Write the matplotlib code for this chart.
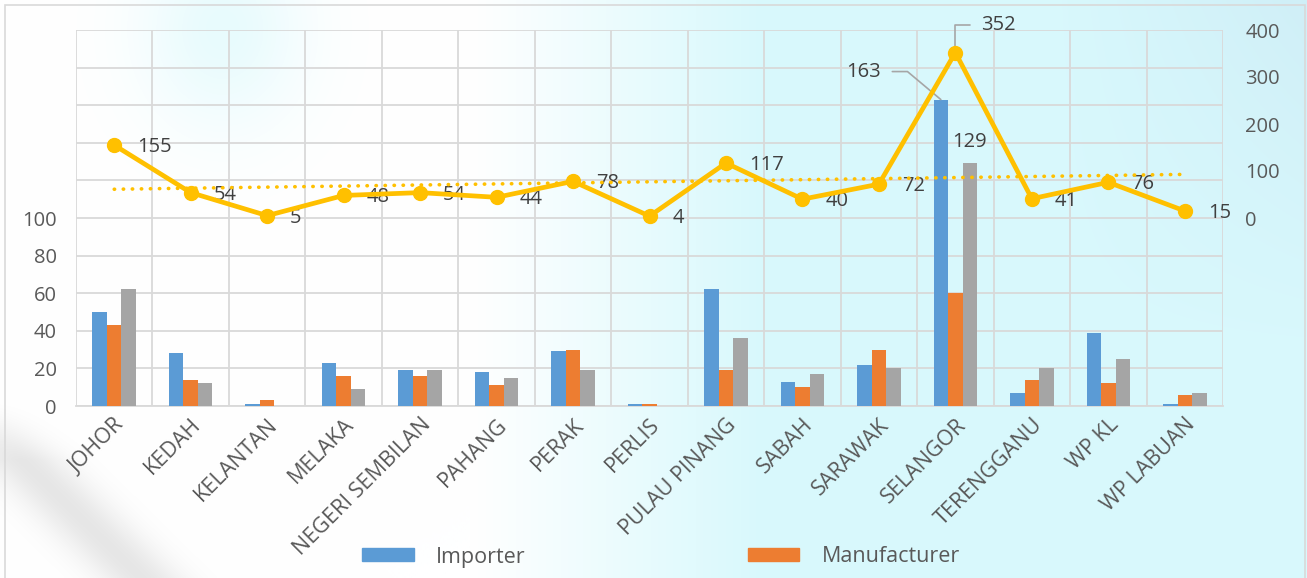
import numpy as np
import matplotlib
matplotlib.use("Agg")
from matplotlib import pyplot as plt
from matplotlib.patches import Patch, Rectangle

plt.rcParams['font.family'] = ['Open Sans', 'DejaVu Sans']

# Registrations per state
states = ['JOHOR', 'KEDAH', 'KELANTAN', 'MELAKA', 'NEGERI SEMBILAN', 'PAHANG',
          'PERAK', 'PERLIS', 'PULAU PINANG', 'SABAH', 'SARAWAK', 'SELANGOR',
          'TERENGGANU', 'WP KL', 'WP LABUAN']
importer = [50, 28, 1, 23, 19, 18, 29, 1, 62, 13, 22, 163, 7, 39, 1]
manufacturer = [43, 14, 3, 16, 16, 11, 30, 1, 19, 10, 30, 60, 14, 12, 6]
distributor = [62, 12, 0, 9, 19, 15, 19, 0, 36, 17, 20, 129, 20, 25, 7]
total = [155, 54, 5, 48, 54, 44, 78, 4, 117, 40, 72, 352, 41, 76, 15]

BLUE, ORANGE, GREY, GOLD = '#5B9BD5', '#ED7D31', '#A5A5A5', '#FFC000'
TXT = '#595959'
LBL = '#404040'
GRID = '#d9d9d9'
FS = 14.5

W, H = 1307, 578
fig = plt.figure(figsize=(W / 100, H / 100), dpi=100)

# soft watercolour-like background
bg = fig.add_axes([0, 0, 1, 1], zorder=-5)
yy, xx = np.mgrid[0:1:290j, 0:1:650j]
cyan = np.clip((xx - 0.36) / 0.22, 0, 1)
cyan = np.maximum(cyan, 0.6 * np.exp(-((xx - 0.17) ** 2 / 0.004 + (yy - 0.05) ** 2 / 0.03)))
img = np.ones(yy.shape + (3,))
c_col = np.array([0.85, 0.975, 0.99])
img = img * (1 - cyan[..., None]) + c_col * cyan[..., None]
blue = np.clip((xx - 0.8) / 0.2, 0, 1) * np.clip(1 - yy * 1.6, 0, 1)
img = img * (1 - 0.5 * blue[..., None]) + np.array([0.78, 0.9, 0.95]) * 0.5 * blue[..., None]
# grey stroke in the lower left
px, py = xx * W, yy * H
d = np.abs(px * 0.7 - (py - 440) * 0.71)
stroke = np.exp(-(d / 30) ** 2) * np.clip((py - 400) / 60, 0, 1) * 0.3
img = img * (1 - stroke[..., None]) + np.array([0.68, 0.68, 0.68]) * stroke[..., None]
bg.imshow(img, aspect='auto', extent=[0, 1, 0, 1], interpolation='bilinear')
bg.set_xlim(0, 1)
bg.set_ylim(0, 1)
bg.axis('off')
bg.add_patch(Rectangle((5 / W, -0.01), 1300 / W, 1 - 5 / H + 0.01, fill=False,
                       edgecolor=GRID, lw=1.2))

left, right, top, bottom = 76, 1223, 30, 406
ax = fig.add_axes([left / W, 1 - bottom / H, (right - left) / W, (bottom - top) / H])
ax.patch.set_alpha(0)

x = np.arange(len(states))
w = 0.19
ax.bar(x - w, importer, w, color=BLUE, zorder=3)
ax.bar(x, manufacturer, w, color=ORANGE, zorder=3)
ax.bar(x + w, distributor, w, color=GREY, zorder=3)

ax.set_xlim(-0.5, len(states) - 0.5)
ax.set_ylim(0, 200)
ax.set_yticks(np.arange(0, 201, 20))
ax.set_yticklabels([str(v) if v <= 100 else '' for v in range(0, 201, 20)])
ax.set_xticks(x)
ax.set_xticklabels(states, rotation=45, ha='right', rotation_mode='anchor', fontsize=15.5)
ax.set_xticks(np.arange(-0.5, len(states), 1), minor=True)
ax.grid(axis='y', which='major', color=GRID, lw=1.3, zorder=0)
ax.grid(axis='x', which='minor', color=GRID, lw=1.3, zorder=0)
ax.grid(axis='x', which='major', visible=False)
ax.tick_params(axis='both', which='both', length=0, colors=TXT)
ax.tick_params(axis='y', labelsize=FS, pad=14)
ax.tick_params(axis='x', pad=6)
for s in ['top', 'left', 'right']:
    ax.spines[s].set_visible(False)
ax.spines['bottom'].set_color(GRID)
ax.spines['bottom'].set_linewidth(1.3)

# labels on the Selangor bars
ax.annotate('163', xy=(11 - w, 163), xytext=(-77, 28), textcoords='offset pixels',
            ha='center', va='center', fontsize=FS, color=LBL, zorder=6,
            arrowprops=dict(arrowstyle='-', color='#a6a6a6', lw=1.2, shrinkA=6, shrinkB=0,
                            connectionstyle='angle,angleA=0,angleB=140,rad=0'))
ax.annotate('129', xy=(11 + w, 129), xytext=(0, 21), textcoords='offset pixels',
            ha='center', va='center', fontsize=FS, color=LBL, zorder=6)

# totals on the secondary axis
ax2 = ax.twinx()
ax2.set_ylim(-400, 400)
ax2.set_yticks(np.arange(0, 401, 100))
ax2.tick_params(axis='y', length=0, colors=TXT, labelsize=FS, pad=16)
for s in ax2.spines.values():
    s.set_visible(False)

coef = np.polyfit(x, total, 1)
ax2.plot(x, np.polyval(coef, x), color=GOLD, lw=2.6, linestyle=(0, (0.1, 2.4)),
         dash_capstyle='round', zorder=4)
ax2.plot(x, total, color=GOLD, lw=3.4, marker='o', ms=10, zorder=5)

for xi, v in zip(x, total):
    if v == max(total):
        ax2.annotate(str(v), xy=(xi, v), xytext=(43, 28), textcoords='offset pixels',
                     ha='center', va='center', fontsize=FS, color=LBL,
                     arrowprops=dict(arrowstyle='-', color='#a6a6a6', lw=1.2, shrinkA=6,
                                     shrinkB=4,
                                     connectionstyle='angle,angleA=0,angleB=90,rad=0'))
    else:
        ax2.annotate(str(v), xy=(xi, v), xytext=(23, -2), textcoords='offset pixels',
                     ha='left', va='center', fontsize=FS, color=LBL)

fig.legend(handles=[Patch(color=BLUE, label='Importer'),
                    Patch(color=ORANGE, label='Manufacturer')],
           loc='center left', bbox_to_anchor=(362 / W, 1 - 557 / H), ncol=2,
           frameon=False, fontsize=15.5, labelcolor=TXT, handlelength=2.4,
           handleheight=0.55, handletextpad=1.05, columnspacing=10.3,
           borderpad=0, borderaxespad=0)

plt.savefig('out.png', dpi=100)
